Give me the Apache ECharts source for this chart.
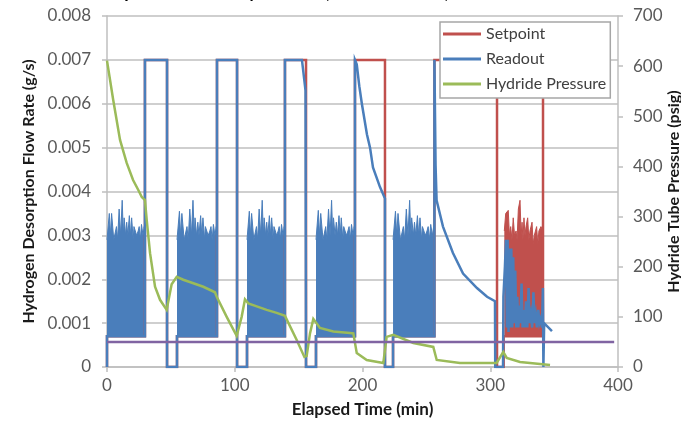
<!DOCTYPE html>
<html>
<head>
<meta charset="utf-8">
<script src="https://cdn.jsdelivr.net/npm/echarts@6/dist/echarts.min.js"></script>
<style>html,body{margin:0;padding:0;background:#fff;}#c{width:681px;height:428px;}</style>
</head>
<body>
<div id="c"></div>
<script>
// ---- axis ticks ----
const xTicks = [0, 100, 200, 300, 400];
const leftTicks = [0, 0.001, 0.002, 0.003, 0.004, 0.005, 0.006, 0.007, 0.008];
const rightTicks = [0, 100, 200, 300, 400, 500, 600, 700];

// ---- Setpoint (g/s) vs time (min) ----
const setpointLine = [
  [0,0],[0,0.0007],[29.7,0.0007],[29.7,0.007],[47,0.007],[47,0],[54.8,0],[54.8,0.0007],
  [86.1,0.0007],[86.1,0.007],[101.8,0.007],[101.8,0],[109.6,0],[109.6,0.0007],
  [139.3,0.0007],[139.3,0.007],[155.8,0.007],[155.8,0],[163.6,0],[163.6,0.0007],
  [194.1,0.0007],[194.1,0.007],[217.6,0.007],[217.6,0],[223.9,0],[223.9,0.0007],
  [256.3,0.0007],[256.3,0.007],[305.3,0.007],[305.3,0],[310.5,0],[310.5,0.0007],
  [341.3,0.0007],[341.3,0.007],[342,0.007]
];
// dense setpoint oscillation during the last cycle (upper envelope)
const setpointBand6 = [
  [311,0.0031],[312.1,0.0035],[314.1,0.00357],[315,0.003],[316,0.0032],[317,0.0029],[318,0.0034],
  [319,0.003],[320.2,0.0031],[321,0.0029],[322,0.0036],[323.3,0.0038],[324.2,0.003],[324.9,0.0033],
  [325.6,0.0029],[326.4,0.0034],[327.2,0.003],[328,0.0032],[329.3,0.0034],[330.2,0.0029],[331.1,0.0031],
  [332.7,0.0033],[333.6,0.0028],[334.5,0.003],[336.3,0.0032],[337.2,0.0028],[338.1,0.0031],
  [339.7,0.0032],[341.3,0.0031]
];

// ---- Readout (g/s) vs time (min) ----
const readoutLine = [
  [0,0],[0,0.0007],[29.7,0.0007],[29.7,0.007],[47,0.007],[47,0],[54.8,0],[54.8,0.0007],
  [86.1,0.0007],[86.1,0.007],[101.8,0.007],[101.8,0],[109.6,0],[109.6,0.0007],
  [139.3,0.0007],[139.3,0.007],[152.6,0.007],[155.4,0.0063],[155.8,0],[163.6,0],[163.6,0.0007],
  [194.1,0.0007],[194.1,0.007],[195.5,0.0069],[197.5,0.0064],[199.5,0.006],[203.5,0.0053],
  [205.9,0.005],[208.2,0.00455],[213.7,0.0041],[217.6,0.00384],[217.6,0],[223.9,0],[223.9,0.0007],
  [256.3,0.0007],[256.3,0.007],[257.2,0.0046],[258,0.0038],[263,0.0032],[270.8,0.0026],
  [278.7,0.00213],[289.6,0.0018],[297.5,0.0016],[303.7,0.0015],[303.9,0],[310,0],
  [310.3,0.0016],[311.5,0.0023],[312.3,0.0029],[313,0.0009],[313.6,0.0029],[314.3,0.0008],
  [315,0.0027],[315.7,0.0009],[316.5,0.0027],[317.2,0.0009],[318,0.0025],[318.8,0.001],
  [319.6,0.0022],[320.4,0.0009],[321.2,0.0016],[322,0.0009],[322.8,0.0014],[323.6,0.001],
  [324.5,0.0019],[325.3,0.0009],[326.2,0.0013],[327,0.0009],[328,0.0015],[329,0.0009],
  [330,0.0018],[330.8,0.001],[331.8,0.0012],[332.8,0.0009],[333.8,0.0017],[334.6,0.001],
  [335.6,0.0012],[336.5,0.0009],[337.6,0.0013],[338.5,0.001],[339.5,0.0011],[340.5,0.0009],
  [341.2,0.0018],[341.6,0.0018],[341.6,0],[342.2,0.001],[348.3,0.00082]
];
// dense readout oscillation blocks (upper envelope, lower edge ~0.0007)
const readoutBand1 = [
  [0,0.0029],[1.8,0.0035],[2.7,0.003],[3.6,0.0035],[5.3,0.0029],[7.4,0.0032],[8.3,0.0029],[9.5,0.0036],
  [10.7,0.003],[11.9,0.0038],[12.8,0.003],[13.4,0.0034],[14.6,0.003],[15.4,0.0033],[16.3,0.003],
  [17.5,0.00345],[18.4,0.003],[19.3,0.0034],[20.5,0.0029],[21.1,0.0032],[23.2,0.003],[24.4,0.0031],
  [25.2,0.0032],[26.1,0.0029],[27,0.00325],[28.2,0.003],[29.1,0.0032],[29.7,0.0031]
];
const readoutBand2 = [
  [54.8,0.0029],[56.7,0.00355],[57.6,0.003],[58.6,0.0035],[60.4,0.0029],[62.6,0.0032],[63.6,0.0029],
  [64.8,0.0036],[66.1,0.003],[67.3,0.0038],[68.3,0.003],[68.9,0.0034],[70.1,0.003],[71.1,0.0033],
  [72,0.003],[73.3,0.00345],[74.2,0.003],[75.1,0.0034],[76.4,0.0029],[77,0.0032],[79.2,0.003],
  [80.5,0.0031],[81.4,0.0032],[82.3,0.0029],[83.3,0.00325],[84.5,0.003],[85.5,0.0032],[86.1,0.0031]
];
const readoutBand3 = [
  [109.6,0.0029],[111.4,0.00355],[112.3,0.003],[113.2,0.0035],[114.9,0.0029],[117,0.0032],[117.9,0.0029],
  [119.1,0.0036],[120.3,0.003],[121.5,0.0038],[122.4,0.003],[123,0.0034],[124.2,0.003],[125,0.0033],
  [125.9,0.003],[127.1,0.00345],[128,0.003],[128.9,0.0034],[130.1,0.0029],[130.7,0.0032],[132.8,0.003],
  [134,0.0031],[134.8,0.0032],[135.7,0.0029],[136.6,0.00325],[137.8,0.003],[138.7,0.0032],[139.3,0.0031]
];
const readoutBand4 = [
  [163.6,0.0029],[165.4,0.00357],[166.3,0.003],[167.3,0.0035],[169.1,0.0029],[171.2,0.0032],[172.1,0.0029],
  [173.4,0.0036],[174.6,0.003],[175.8,0.0038],[176.7,0.003],[177.3,0.0034],[178.5,0.003],[179.5,0.0033],
  [180.4,0.003],[181.6,0.00345],[182.5,0.003],[183.4,0.0034],[184.6,0.0029],[185.3,0.0032],[187.4,0.003],
  [188.6,0.0031],[189.5,0.0032],[190.4,0.0029],[191.4,0.00325],[192.6,0.003],[193.5,0.0032],[194.1,0.0031]
];
const readoutBand5 = [
  [223.9,0.0029],[225.8,0.00355],[226.8,0.003],[227.8,0.0035],[229.7,0.0029],[232,0.0032],[233,0.0029],
  [234.3,0.0036],[235.6,0.003],[236.9,0.0038],[237.8,0.003],[238.5,0.0034],[239.8,0.003],[240.7,0.0033],
  [241.7,0.003],[243,0.00345],[244,0.003],[245,0.0034],[246.3,0.0029],[246.9,0.0032],[249.2,0.003],
  [250.5,0.0031],[251.4,0.0032],[252.4,0.0029],[253.4,0.00325],[254.7,0.003],[255.7,0.0032],[256.3,0.0031]
];

// ---- Hydride Pressure (psig) vs time (min) ----
const hydridePressure = [
  [0,611],[4.9,532],[10.2,453],[15.4,407],[20.4,373],[24.5,353],[27.2,339],[29.7,333],[31.1,293],
  [33.7,227],[37.6,160],[41.5,134],[46.7,114],[50.6,165],[54.6,180],[59.7,174],[67.6,167],[75.4,160],
  [84.5,149],[85.9,140],[93.7,100],[101.5,62],[105.4,100],[108,135],[110.6,127],[117.2,121],[125,114],
  [132.8,108],[139.3,102],[148.5,54],[154.5,20],[156.3,22],[158.9,67],[161.5,96],[166.7,78],[177.2,71],
  [190.2,68],[192.8,67],[195.5,28],[203.3,14],[216.3,8],[218.9,60],[224.1,64],[239.8,48],[255.4,40],
  [258.1,14],[276.3,8],[305,8],[310.2,30],[312.9,18],[323.3,10],[346.8,4]
];
// reference pressure level (psig)
const referencePressure = [[0,50],[397,50]];

const C_RED = '#c0504d', C_BLUE = '#4a7ebb', C_GREEN = '#9bbb59', C_PURPLE = '#8064a2';
const FONT = 'Lato, "Liberation Sans", sans-serif';

function bandSeries(name, data, color) {
  return {
    name: name, type: 'line', data: data, yAxisIndex: 0, showSymbol: false, silent: true,
    lineStyle: {color: color, width: 1}, itemStyle: {color: color},
    areaStyle: {color: color, opacity: 1, origin: 0.0007}
  };
}
function lineSeries(name, data, color, axis, width) {
  return {
    name: name, type: 'line', data: data, yAxisIndex: axis, showSymbol: false, silent: true,
    lineStyle: {color: color, width: width, join: 'miter'}, itemStyle: {color: color}
  };
}

const series = [
  bandSeries('sp-band6', setpointBand6, C_RED),
  lineSeries('Setpoint', setpointLine, C_RED, 0, 2.5),
  bandSeries('ro-band1', readoutBand1, C_BLUE),
  bandSeries('ro-band2', readoutBand2, C_BLUE),
  bandSeries('ro-band3', readoutBand3, C_BLUE),
  bandSeries('ro-band4', readoutBand4, C_BLUE),
  bandSeries('ro-band5', readoutBand5, C_BLUE),
  lineSeries('Readout', readoutLine, C_BLUE, 0, 2.5),
  lineSeries('Hydride Pressure', hydridePressure, C_GREEN, 1, 2.5),
  lineSeries('Reference', referencePressure, C_PURPLE, 1, 2.5)
];

const chart = echarts.init(document.getElementById('c'), null, {renderer: 'canvas'});
chart.setOption({
  animation: false,
  backgroundColor: '#fff',
  textStyle: {fontFamily: FONT},
  title: {
    text: 'Desorption Rate Study Results (Constant Flow)',
    left: 71, top: -22,
    textStyle: {fontFamily: FONT, fontSize: 18, fontWeight: 'bold', color: '#000'}
  },
  grid: {left: 107, right: 63, top: 16, bottom: 61, containLabel: false, outerBoundsMode: 'none'},
  legend: {
    data: ['Setpoint', 'Readout', 'Hydride Pressure'],
    orient: 'vertical', left: 440, top: 22,
    icon: 'rect', itemWidth: 38, itemHeight: 3, itemGap: 7,
    padding: [3, 4, 5, 3],
    backgroundColor: '#fff', borderColor: '#a6a6a6', borderWidth: 1.5,
    textStyle: {fontFamily: FONT, fontSize: 16, color: '#404040', lineHeight: 18},
    selectedMode: false
  },
  xAxis: {
    type: 'value', min: xTicks[0], max: xTicks[xTicks.length - 1], interval: 100,
    name: 'Elapsed Time (min)', nameLocation: 'middle', nameGap: 34,
    nameTextStyle: {fontFamily: FONT, fontSize: 17, fontWeight: 'bold', color: '#1a1a1a'},
    axisLine: {show: true, lineStyle: {color: '#bfbfbf', width: 1.5}},
    axisTick: {show: true, inside: false, length: 5, lineStyle: {color: '#bfbfbf', width: 1.5}},
    axisLabel: {fontFamily: FONT, fontSize: 17, color: '#595959', margin: 10},
    splitLine: {show: false}
  },
  yAxis: [
    {
      type: 'value', min: leftTicks[0], max: leftTicks[leftTicks.length - 1], interval: 0.001,
      position: 'left',
      name: 'Hydrogen Desorption Flow Rate (g/s)', nameLocation: 'middle', nameGap: 66, nameRotate: 90,
      nameTextStyle: {fontFamily: FONT, fontSize: 16, fontWeight: 'bold', color: '#1a1a1a'},
      axisLine: {show: true, lineStyle: {color: '#bfbfbf', width: 1.5}},
      axisTick: {show: true, inside: false, length: 5, lineStyle: {color: '#bfbfbf', width: 1.5}},
      axisLabel: {fontFamily: FONT, fontSize: 17, color: '#595959', margin: 16,
        formatter: v => (v === 0 ? '0' : v.toFixed(3))},
      splitLine: {show: true, lineStyle: {color: '#bfbfbf', width: 1.5}}
    },
    {
      type: 'value', min: rightTicks[0], max: rightTicks[rightTicks.length - 1], interval: 100,
      position: 'right',
      name: 'Hydride Tube Pressure (psig)', nameLocation: 'middle', nameGap: 48, nameRotate: 90,
      nameMoveOverlap: false,
      nameTextStyle: {fontFamily: FONT, fontSize: 16, fontWeight: 'bold', color: '#1a1a1a'},
      axisLine: {show: true, lineStyle: {color: '#bfbfbf', width: 1.5}},
      axisTick: {show: true, inside: false, length: 5, lineStyle: {color: '#bfbfbf', width: 1.5}},
      axisLabel: {fontFamily: FONT, fontSize: 17, color: '#595959', margin: 15},
      splitLine: {show: false}
    }
  ],
  series: series
});
</script>
</body>
</html>
